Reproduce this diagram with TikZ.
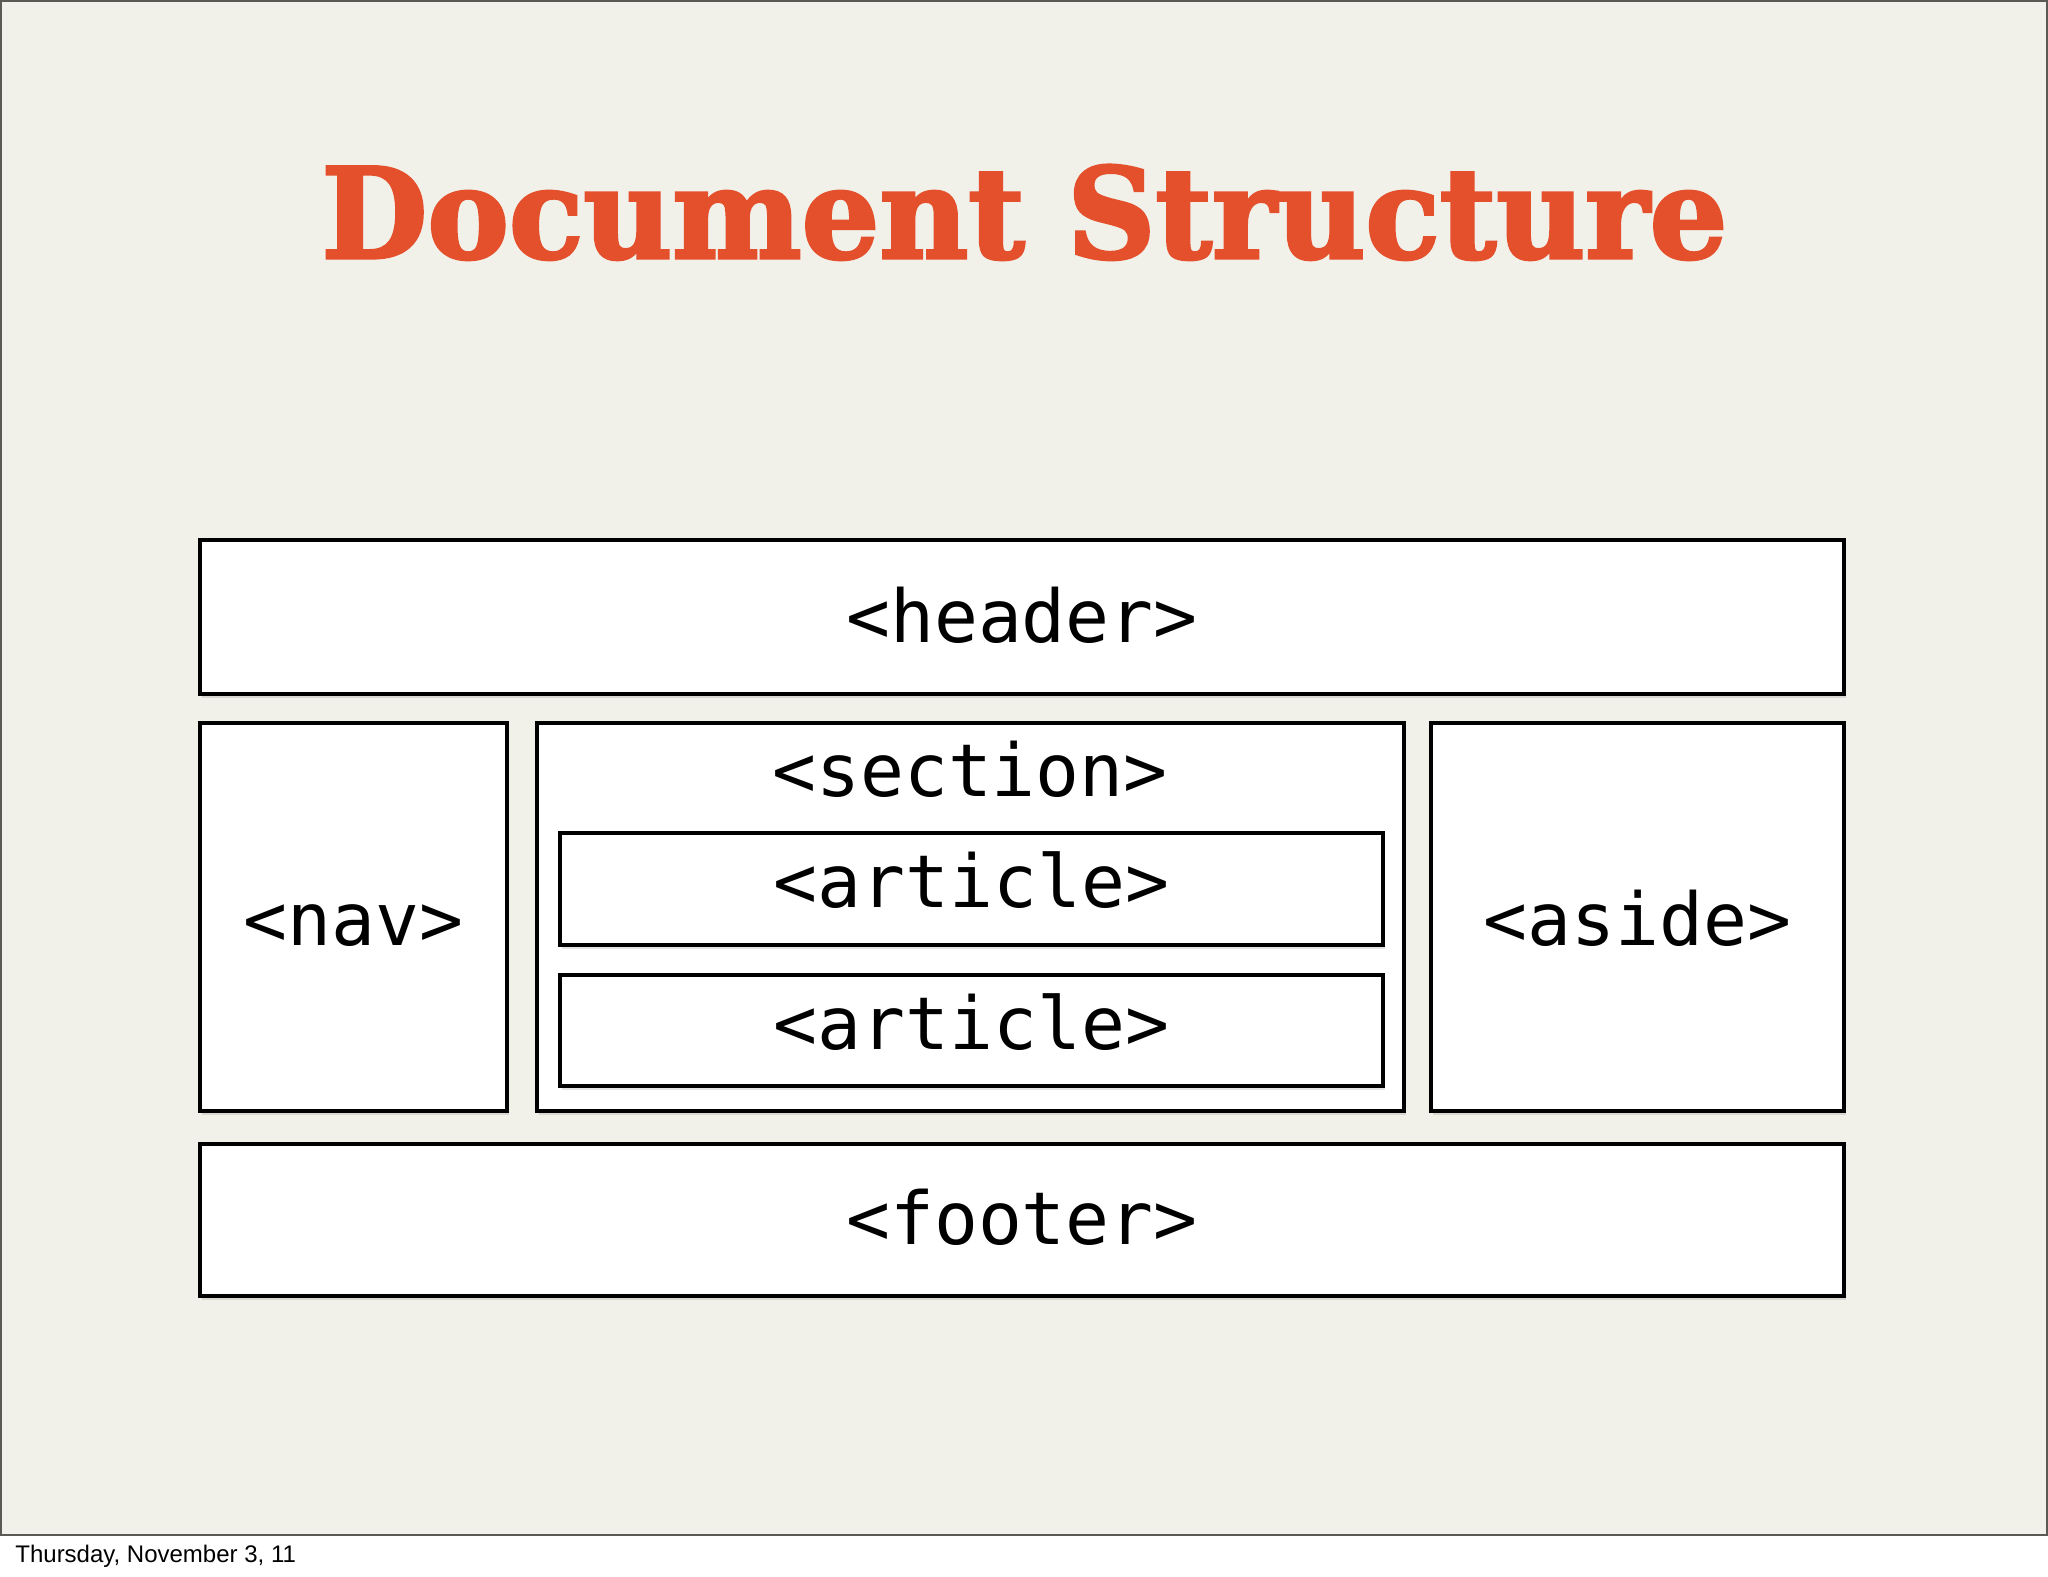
\documentclass[tikz,border=0pt]{standalone}
\usepackage{fontspec}
\usetikzlibrary{shadows}
\newfontfamily\monofont{DejaVu Sans Mono}
\newfontfamily\titlefont[BoldFeatures={FakeBold=2.5}]{DejaVu Serif}
\newfontfamily\datefont{Liberation Sans}
\definecolor{slidebg}{RGB}{241,240,233}
\definecolor{slideedge}{RGB}{90,90,85}
\definecolor{titlered}{RGB}{228,80,44}
\tikzset{
  htmlbox/.style={draw=black, line width=2pt, fill=white, inner sep=0pt, outer sep=0pt,
    drop shadow={opacity=0.22, shadow xshift=1pt, shadow yshift=-1.8pt}},
  tag/.style={anchor=base, inner sep=0pt, font=\monofont\fontsize{36.5pt}{40pt}\selectfont}
}
\begin{document}
\begin{tikzpicture}[x=0.5pt,y=-0.5pt]
\useasboundingbox (0,0) rectangle (2048,1576);
\fill[white] (0,0) rectangle (2048,1576);
\draw[fill=slidebg, draw=slideedge, line width=1.2pt] (1,1) rectangle (2047,1535);

% title
\node[anchor=base west, inner sep=0pt, text=titlered] (title) at (321,258)
  {\resizebox{703pt}{46.5pt}{\titlefont\bfseries Document Structure}};

% boxes
\node[htmlbox, minimum width=822pt, minimum height=77pt] (header) at (1022,617) {};
\node[htmlbox, minimum width=153.5pt, minimum height=194pt] (nav) at (353.5,917) {};
\node[htmlbox, minimum width=433.5pt, minimum height=194pt] (section) at (970.5,917) {};
\node[htmlbox, minimum width=411.5pt, minimum height=56pt] (article1) at (971.5,889) {};
\node[htmlbox, minimum width=411.5pt, minimum height=55.5pt] (article2) at (971.5,1030.5) {};
\node[htmlbox, minimum width=206.5pt, minimum height=194pt] (aside) at (1637.5,917) {};
\node[htmlbox, minimum width=822pt, minimum height=76pt] (footer) at (1022,1220) {};

% labels
\node[tag] (headerlbl) at (1022,642) {<header>};
\node[tag] (sectionlbl) at (970,796) {<section>};
\node[tag] (article1lbl) at (971.5,907) {<article>};
\node[tag] (article2lbl) at (971.5,1049) {<article>};
\node[tag] (navlbl) at (353.5,945) {<nav>};
\node[tag] (asidelbl) at (1637.5,945) {<aside>};
\node[tag] (footerlbl) at (1022,1244) {<footer>};

% date
\node[anchor=base west, inner sep=0pt, font=\datefont\fontsize{12pt}{14pt}\selectfont] (date) at (15,1562.5) {Thursday, November 3, 11};
\end{tikzpicture}
\end{document}
